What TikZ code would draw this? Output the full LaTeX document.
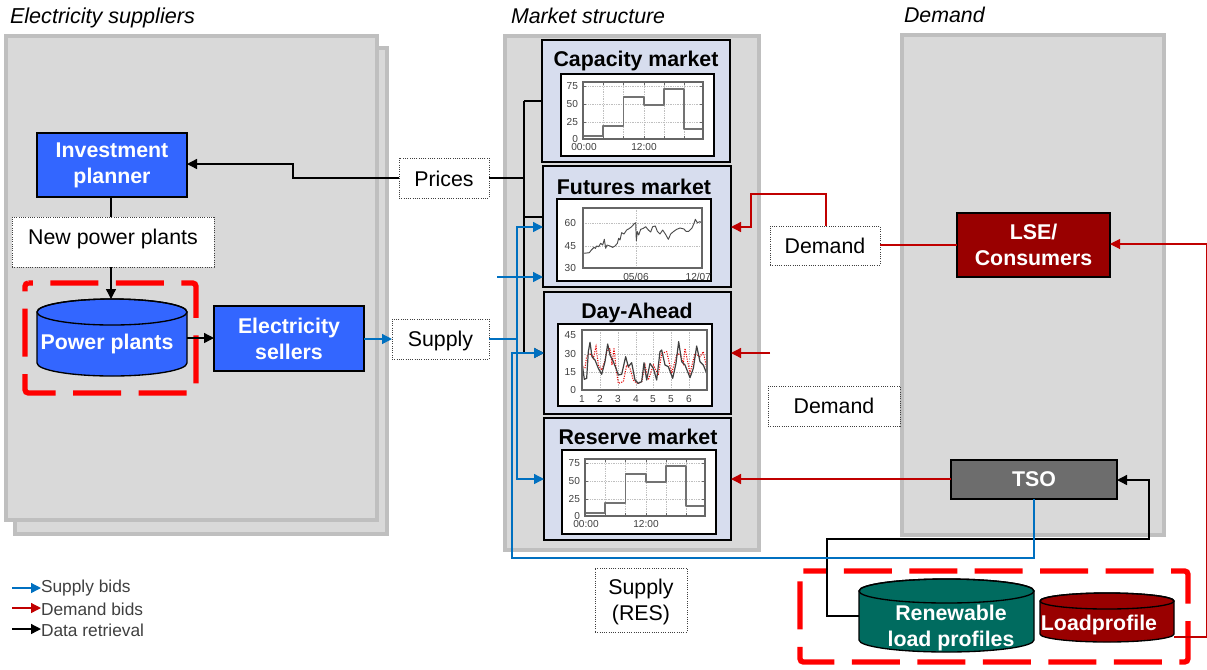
\documentclass[tikz,border=0pt]{standalone}
\usepackage{fontspec}
\setmainfont{Liberation Sans}
\usetikzlibrary{arrows.meta}
\definecolor{panel}{HTML}{D9D9D9}
\definecolor{panelb}{HTML}{BFBFBF}
\definecolor{mkt}{HTML}{D7DDEE}
\definecolor{bluebox}{HTML}{3366FF}
\definecolor{redbox}{HTML}{990000}
\definecolor{tsobox}{HTML}{6D6D6D}
\definecolor{greenbox}{HTML}{006B5F}
\definecolor{bl}{HTML}{0070C0}
\definecolor{rd}{HTML}{C00000}
\definecolor{dash}{HTML}{FF0000}
\definecolor{lab}{HTML}{404040}
\tikzset{
 every node/.style={inner sep=0pt,outer sep=0pt,font=\fontsize{16}{24}\selectfont},
 panelbox/.style={draw=panelb,fill=panel,line width=2.6pt},
 mktbox/.style={draw=black,fill=mkt,line width=1.5pt},
 chartbox/.style={draw=black,fill=white,line width=1.5pt},
 solid box/.style={draw=black,line width=1.2pt,text=white,font=\fontsize{16}{19.5}\selectfont\bfseries,align=center},
 dotbox/.style={draw=black!75,fill=white,densely dotted,line width=.7pt,align=center,font=\fontsize{16}{19.5}\selectfont},
 title/.style={anchor=west,font=\fontsize{16}{19}\selectfont\itshape},
 mtitle/.style={font=\fontsize{16}{19}\selectfont\bfseries},
 reddash/.style={draw=dash,line width=4pt,dash pattern=on 36pt off 13.1pt,rounded corners=2.5pt},
 tip/.style={-{Triangle[length=7.5pt,width=7.5pt]}},
 blk/.style={draw=black,line width=1pt},
 blu/.style={draw=bl,line width=1pt},
 red/.style={draw=rd,line width=1pt},
 tick/.style={font=\fontsize{7.6}{9}\selectfont,text=lab},
 frame/.style={draw=black!60,line width=.8pt},
 grid/.style={draw=black!25,line width=.3pt,densely dotted},
 series/.style={draw=black!55,line width=.9pt,line join=round},
 legend/.style={anchor=west,text=lab,font=\fontsize{13}{16}\selectfont},
 cylb/.style={draw=black,line width=1pt},
}
\newcommand{\bx}[7][]{\node[minimum width={(#4-#2)*0.75pt},minimum height={(#5-#3)*0.75pt},#6,#1] (#7) at ({(#2+#4)/2},{(#3+#5)/2}) {};}
\newcommand{\bxt}[8][]{\node[minimum width={(#4-#2)*0.75pt},minimum height={(#5-#3)*0.75pt},#6,#1] (#7) at ({(#2+#4)/2},{(#3+#5)/2}) {#8};}
% name x0 y0 x1 y1 ry colour
\newcommand{\cyl}[7]{
 \path[cylb,fill=#7] (#2,#3+#6) -- (#2,#5-#6) arc[start angle=180,end angle=0,x radius={(#4-#2)/2},y radius=#6] -- (#4,#3+#6) arc[start angle=0,end angle=-180,x radius={(#4-#2)/2},y radius=#6] -- cycle;
 \path[cylb] (#2,#3+#6) arc[start angle=180,end angle=-180,x radius={(#4-#2)/2},y radius=#6];
 \node[minimum width={(#4-#2)*0.75pt},minimum height={(#5-#3)*0.75pt}] (#1) at ({(#2+#4)/2},{(#3+#5)/2}) {};
}
% step chart, given top-left of frame (capacity chart = 583,82)
\newcommand{\stepchart}[3]{
 \begin{scope}[shift={(#1-583,#2-82)}]
  \foreach \yy in {86,104,122}{\draw[grid] (583,\yy) -- (703,\yy);}
  \foreach \xx in {603,623,644,664,684}{\draw[grid] (\xx,82) -- (\xx,139);}
  \draw[series] (583,136) -| (603,126) -| (623.5,97) -| (644,105) -| (664,89) -| (684,129) -- (703,129);
  \draw[frame] (583,82) rectangle (703,139);
  \foreach \xx in {603,623,644,664,684}{\draw[frame,line width=.5pt] (\xx,139) -- (\xx,136) (\xx,82) -- (\xx,85);}
  \foreach \yy in {86,104,122}{\draw[frame,line width=.5pt] (583,\yy) -- (586,\yy) (703,\yy) -- (700,\yy);}
  \foreach \v/\yy in {75/86,50/104,25/122,0/139}{\node[tick,anchor=east] (#3y\v) at (578,\yy) {\v};}
  \node[tick] (#3xa) at (584,147) {00:00};
  \node[tick] (#3xb) at (644,147) {12:00};
 \end{scope}
}
\begin{document}
\begin{tikzpicture}[x=0.75pt,y=-0.75pt]
\useasboundingbox (0,0) rectangle (1207,669);
% panels
\bx{15}{48}{387}{534}{panelbox}{supb}
\bx{6}{36}{377}{520}{panelbox}{sup}
\bx{505}{36}{759}{550}{panelbox}{mk}
\bx{902}{35}{1164}{535}{panelbox}{dem}
\node[title,font=\fontsize{16.2}{19}\selectfont\itshape] (t1) at (10,18) {Electricity suppliers};
\node[title] (t2) at (511,16) {Market structure};
\node[title] (t3) at (904,15) {Demand};
% market boxes
\bx{542}{40}{730}{162}{mktbox}{cap}
\bx{543}{166}{731}{287}{mktbox}{fut}
\bx{544}{292}{731}{414}{mktbox}{da}
\bx{544}{418}{731}{540}{mktbox}{res}
\node[mtitle] (capt) at (636,61) {Capacity market};
\node[mtitle] (futt) at (634,187) {Futures market};
\node[mtitle] (dat) at (637,313) {Day-Ahead};
\node[mtitle] (rest) at (638,437) {Reserve market};
\bx{561}{74}{714}{156}{chartbox}{capc}
\bx{557}{199}{711}{281}{chartbox}{futc}
\bx{558}{324}{712}{406}{chartbox}{dac}
\bx{562}{450}{716}{534}{chartbox}{resc}
\stepchart{583}{82}{ca}
\stepchart{585}{459}{re}
% futures chart
\foreach \yy in {223,246}{\draw[grid] (583,\yy) -- (702,\yy);}
\draw[grid] (636,208) -- (636,268);
\begin{scope}[shift={(500,30)},x=.25pt,y=-.25pt]
\draw[series,line width=.7pt,draw=black!70] (250,670)--(260,669)--(268,668)--(274,660)--(282,652)--(286,655)--(290,648)--(296,650)--(302,640)--(308,645)--(313,628)--(317,655)--(321,645)--(330,648)--(338,652)--(345,648)--(352,640)--(356,625)--(360,630)--(365,608)--(372,612)--(380,600)--(387,596)--(395,590)--(402,582)--(407,578)--(409,632)--(412,605)--(416,615)--(422,598)--(430,595)--(437,590)--(445,600)--(452,606)--(458,590)--(466,588)--(472,604)--(480,612)--(488,600)--(496,612)--(505,628)--(512,612)--(520,605)--(530,598)--(540,594)--(552,597)--(558,604)--(566,604)--(576,594)--(582,580)--(586,568)--(592,578)--(600,575)--(607,580);
\end{scope}
\draw[frame] (583,208) rectangle (702,268);
\foreach \v/\yy in {60/223,45/246,30/268}{\node[tick,anchor=east] (fy\v) at (576,\yy) {\v};}
\node[tick] (fx1) at (636,277) {05/06};
\node[tick,anchor=east] (fx2) at (711,277) {12/07};
% day-ahead chart
\foreach \yy in {354,372}{\draw[grid] (582,\yy) -- (707,\yy);}
\foreach \xx in {600,618,636,653,671,689}{\draw[grid] (\xx,330) -- (\xx,390);}
\begin{scope}[shift={(490,285)},x=.25pt,y=-.25pt]
\draw[draw=red!90!black,line width=.8pt,densely dotted] (277,245)--(285,248)--(290,215)--(297,205)--(305,210)--(310,220)--(318,185)--(325,240)--(335,255)--(345,225)--(350,200)--(360,190)--(366,240)--(372,188)--(378,250)--(385,295)--(400,290)--(410,240)--(420,250)--(430,285)--(440,295)--(455,290)--(465,240)--(475,285)--(490,240)--(505,270)--(515,205)--(530,200)--(545,265)--(560,210)--(570,205)--(580,235)--(585,190)--(600,265)--(615,205)--(630,215)--(640,200)--(650,250);
\draw[series,line width=.9pt,draw=black!75] (277,240)--(283,283)--(290,280)--(295,200)--(300,172)--(306,215)--(315,225)--(325,250)--(335,268)--(345,230)--(353,177)--(360,210)--(368,225)--(378,250)--(385,270)--(395,268)--(407,215)--(415,245)--(425,233)--(435,285)--(445,295)--(455,290)--(462,233)--(470,285)--(480,235)--(490,250)--(500,285)--(510,200)--(515,195)--(525,240)--(535,245)--(548,280)--(558,235)--(566,170)--(575,230)--(585,240)--(600,278)--(610,250)--(620,183)--(630,230)--(640,240)--(650,265);
\end{scope}
\draw[frame] (582,330) rectangle (707,390);
\foreach \v/\yy in {45/335,30/354,15/372,0/390}{\node[tick,anchor=east] (dy\v) at (576,\yy) {\v};}
\foreach \v/\xx/\n in {1/582/a,2/600/b,3/618/c,4/636/d,5/653/e,5/671/f,6/689/g}{\node[tick] (dx\n) at (\xx,399) {\v};}
% red dashes (behind the boxes)
\path[reddash,dash phase=32.6pt] (25,283) -- (196,283) -- (196,393) -- (25,393) -- cycle;
\path[reddash,dash phase=18.75pt] (800,571) -- (1188,571) -- (1188,662) -- (800,662) -- cycle;
% solid boxes
\bxt[fill=bluebox]{37}{133}{187}{197}{solid box}{inv}{\raisebox{-1.4pt}{Investment}\\\raisebox{-1.4pt}{planner}}
\bxt[fill=bluebox]{214}{306}{364}{371}{solid box}{sel}{Electricity\\sellers}
\bxt[fill=redbox]{957}{213}{1110}{277}{solid box}{lse}{LSE/\\Consumers}
\bxt[fill=tsobox]{951}{460}{1117}{499}{solid box}{tso}{TSO}
\cyl{pp}{37}{299}{187}{376}{13}{bluebox}
\node[text=white,font=\fontsize{16}{19}\selectfont\bfseries] (ppt) at (107,344) {Power plants};
\cyl{rl}{859}{579}{1034}{652}{12}{greenbox}
\node[text=white,font=\fontsize{16}{19.5}\selectfont\bfseries,align=center] (rlt) at (951,628) {Renewable\\load profiles};
\cyl{lp}{1040}{593}{1174}{642}{8}{redbox}
\node[text=white,font=\fontsize{16}{19}\selectfont\bfseries] (lpt) at (1099,625) {Loadprofile};
% dotted boxes
\bxt{399}{158}{489}{198}{dotbox}{pri}{\raisebox{-2pt}[11.6pt][3.4pt]{Prices}}
\bxt{12}{217}{214}{267}{dotbox}{npp}{\raisebox{2.4pt}[11.6pt][3.4pt]{New power plants}}
\bxt{392}{319}{489}{359}{dotbox}{sup1}{\raisebox{-1.5pt}[11.6pt][3.4pt]{Supply}}
\bxt{770}{226}{880}{265}{dotbox}{dem1}{Demand}
\bxt{768}{386}{900}{426}{dotbox}{dem2}{Demand}
\bxt{595}{568}{687}{632}{dotbox}{sup2}{\raisebox{-1.5pt}[11.6pt][3.4pt]{Supply}\\\raisebox{-1.5pt}[11.6pt][3.4pt]{(RES)}}
% junction coordinates
\coordinate (jb) at (524,178);
\coordinate (jc) at (524,101);
\coordinate (jf) at (524,217);
\coordinate (jd) at (524,353);
\coordinate (js) at (517,339);
\coordinate (jt) at (517,227);
\coordinate (jr) at (517,479);
\coordinate (st) at (497,277);
\coordinate (ts1) at (1034,558);
\coordinate (ts2) at (512,558);
\coordinate (ts3) at (512,353);
\coordinate (dm1) at (826,194);
\coordinate (dm2) at (751,194);
\coordinate (dm3) at (751,227);
\coordinate (ds) at (770,353);
\coordinate (lp1) at (1206.7,637);
\coordinate (lp2) at (1206.7,244);
\coordinate (rl1) at (827,616);
\coordinate (rl2) at (827,539);
\coordinate (rl3) at (1149,539);
\coordinate (rl4) at (1149,480);
% black
\draw[blk,tip] (pri.west) -- (293,178) -- (293,164) -- (inv.east|-0,164);
\draw[blk] (pri.east) -- (jb);
\draw[blk] (jc) -- (jd);
\draw[blk] (jc) -- (cap.west|-jc);
\draw[blk] (jf) -- (fut.west|-jf);
\draw[blk,tip] (jd) -- (da.west|-jd);
\draw[blk] (inv.south-|111,0) -- (npp.north-|111,0);
\draw[blk,tip] (npp.south-|111,0) -- (pp.north-|111,0);
\draw[blk,tip] (pp.east|-0,338) -- (sel.west|-0,338);
\draw[blk,tip] (rl.west|-rl1) -- (rl1) -- (rl2) -- (rl3) -- (rl4) -- (tso.east|-rl4);
% blue
\draw[blu,tip] (sel.east|-0,339) -- (sup1.west|-0,339);
\draw[blu] (sup1.east|-0,339) -- (js);
\draw[blu,tip] (js) -- (jt) -- (fut.west|-jt);
\draw[blu,tip] (js) -- (jr) -- (res.west|-jr);
\draw[blu,tip] (st) -- (fut.west|-st);
\draw[blu,tip] (tso.south-|ts1) -- (ts1) -- (ts2) -- (ts3) -- (da.west|-ts3);
% red
\draw[red] (lse.west|-0,245) -- (dem1.east|-0,245);
\draw[red,tip] (dem1.north-|dm1) -- (dm1) -- (dm2) -- (dm3) -- (fut.east|-dm3);
\draw[red,tip] (ds) -- (da.east|-ds);
\draw[red,tip] (tso.west|-0,479) -- (res.east|-0,479);
\draw[red,line width=.8pt,tip] (lp.east|-lp1) -- (lp1) -- (lp2) -- (lse.east|-lp2);
% legend
\node[legend] (l1) at (41,588) {Supply bids};
\node[legend] (l2) at (41,609) {Demand bids};
\node[legend] (l3) at (41,630) {Data retrieval};
\coordinate (a1) at (12,588);
\coordinate (a2) at (12,608);
\coordinate (a3) at (12,629);
\draw[blu,tip] (a1) -- (l1.west|-a1);
\draw[red,tip] (a2) -- (l2.west|-a2);
\draw[blk,tip] (a3) -- (l3.west|-a3);
\end{tikzpicture}
\end{document}
